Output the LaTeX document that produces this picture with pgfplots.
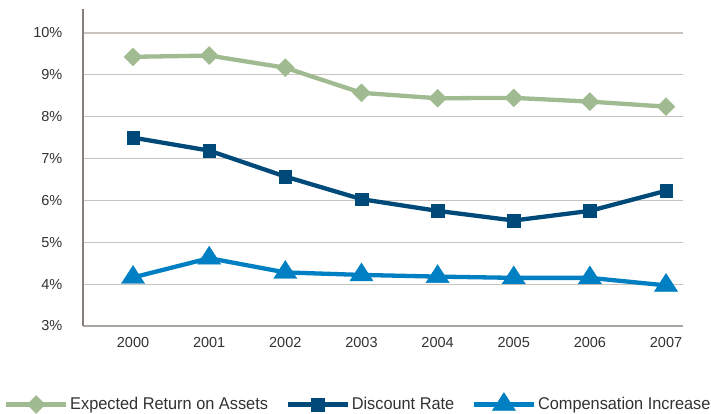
\documentclass[border=0pt]{standalone}
\usepackage{fontspec}
\setmainfont{Liberation Sans}
\newfontfamily\legendfont{Liberation Sans}[FakeStretch=0.96]
\usepackage{pgfplots}
\pgfplotsset{compat=1.18}
\definecolor{cgreen}{RGB}{160,187,145}
\definecolor{cdark}{RGB}{0,74,122}
\definecolor{clight}{RGB}{0,128,194}
\definecolor{cgrid}{RGB}{200,195,190}
\definecolor{cyax}{RGB}{135,127,122}
\definecolor{ctext}{RGB}{50,50,50}
\begin{document}
\begin{tikzpicture}
\useasboundingbox (0,0) rectangle (711pt,414pt);
\begin{axis}[
  at={(83pt,88pt)}, anchor=south west,
  scale only axis, width=600pt, height=317pt,
  xmin=-0.657, xmax=7.223, ymin=3, ymax=10.573,
  axis x line=bottom, axis y line=left,
  x axis line style={-, draw=cgrid!85!black, line width=1.1pt},
  y axis line style={-, draw=cyax, line width=1.4pt},
  xtick={0,...,7}, xticklabels={2000,2001,2002,2003,2004,2005,2006,2007},
  ytick={3,...,10},
  yticklabel={\pgfmathprintnumber{\tick}\%},
  /pgf/number format/assume math mode=true,
  major tick length=0pt,
  ymajorgrids, grid style={draw=cgrid, line width=1.2pt},
  ticklabel style={font=\fontsize{14.5}{16}\selectfont, text=ctext},
  xticklabel style={anchor=north, inner sep=0pt, yshift=-10.7pt},
  yticklabel style={anchor=east, inner sep=0pt, xshift=-20.5pt},
  legend columns=3,
  legend style={draw=none, fill=none, inner sep=0pt, outer sep=0pt, at={(-0.1318,-0.243)}, anchor=west,
    font=\legendfont\fontsize{17}{19}\selectfont, text=ctext,
    nodes={inner sep=0pt, outer sep=0pt},
    /tikz/every odd column/.append style={column sep=2pt},
    /tikz/every even column/.append style={column sep=17.5pt}},
  legend image code/.code={\draw[mark repeat=2, mark phase=2, #1] plot coordinates {(0pt,0pt) (30pt,0pt) (60pt,0pt)};},
  clip=false,
]
\addplot[cgreen, line width=4.3pt, mark=square*, mark size=6.4pt, mark options={solid, rotate=45, line width=0.3pt}]
  coordinates {(0,9.43) (1,9.46) (2,9.17) (3,8.57) (4,8.44) (5,8.45) (6,8.36) (7,8.24)};
\addlegendentry{Expected Return on Assets}
\addplot[cdark, line width=4.3pt, mark=square*, mark size=6.3pt, mark options={solid, line width=0.3pt}]
  coordinates {(0,7.50) (1,7.19) (2,6.57) (3,6.03) (4,5.75) (5,5.52) (6,5.75) (7,6.23)};
\addlegendentry{Discount Rate}
\addplot[clight, line width=4.3pt, mark=triangle*, mark size=12pt, mark options={solid, xscale=1.12, line width=0.3pt}]
  coordinates {(0,4.16) (1,4.62) (2,4.28) (3,4.22) (4,4.18) (5,4.15) (6,4.15) (7,3.97)};
\addlegendentry{Compensation Increase}
\end{axis}
\end{tikzpicture}
\end{document}
